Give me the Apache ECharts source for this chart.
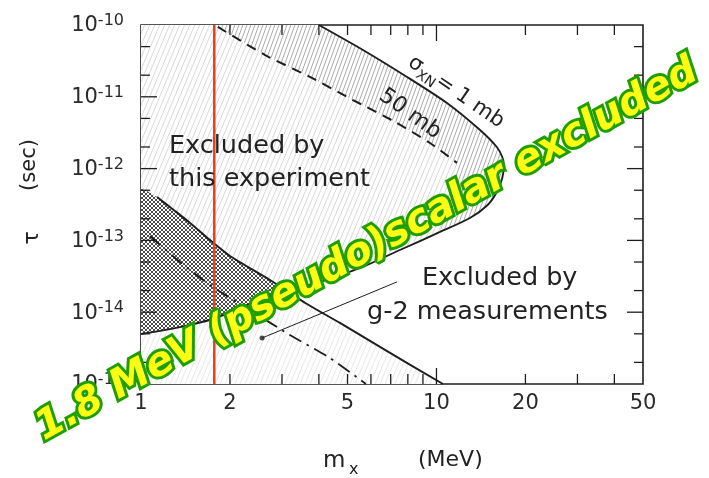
<!DOCTYPE html>
<html><head><meta charset="utf-8">
<script src="https://cdn.jsdelivr.net/npm/echarts@6.0.0/dist/echarts.min.js"></script>
<style>html,body{margin:0;padding:0;background:#fff;}#chart{width:709px;height:478px;}</style>
</head><body><div id="chart"></div>
<script>
// ---------------- data (m_X in MeV, tau in sec) ----------------
const massRange = [1, 50];
const tauRange = [1e-15, 1e-10];
const xLabelValues = [1, 2, 5, 10, 20, 50];
const xTickValues = [2, 3, 4, 5, 6, 7, 8, 9, 10, 20, 30, 40];
const xMajorTickValues = [10];
const yLabelExponents = [-15, -14, -13, -12, -11, -10];
const yTickValues = [2e-15, 5e-15, 1e-14, 2e-14, 5e-14, 1e-13, 2e-13, 5e-13, 1e-12, 2e-12, 5e-12, 1e-11, 2e-11, 5e-11];
const yMajorTickValues = [1e-14, 1e-13, 1e-12, 1e-11];

// sigma_XN = 1 mb contour (boundary of region excluded by this experiment)
const sigma1mbUpper = [[4.00, 1.0e-10], [5.64, 4.49e-11], [7.95, 1.89e-11], [10.85, 8.2e-12], [14.04, 3.45e-12], [16.0, 2.0e-12], [16.7, 1.45e-12], [16.9, 1.12e-12]];
const sigma1mbLower = [[16.7, 7.4e-13], [16.0, 4.72e-13], [14.9, 3.11e-13], [12.98, 2.05e-13], [10.28, 1.31e-13], [7.52, 7.35e-14], [5.51, 4.13e-14], [4.04, 2.64e-14], [3.02, 1.91e-14], [2.63, 1.58e-14], [2.16, 1.14e-14], [1.75, 8.04e-15], [1.355, 6.2e-15], [1.0, 4.97e-15]];
// sigma_XN = 50 mb contour (dashed)
const sigma50mb = [[1.82, 9.4e-11], [2.63, 3.82e-11], [3.73, 1.89e-11], [5.22, 9.02e-12], [7.24, 4.46e-12], [9.51, 2.27e-12], [11.73, 1.20e-12]];
// g-2 limits
const g2Solid = [[1.0, 5.5e-13], [1.133, 4.02e-13], [1.303, 2.57e-13], [1.465, 1.75e-13], [1.712, 1.01e-13], [2.0, 6.06e-14], [2.733, 2.81e-14], [3.646, 1.30e-14], [4.714, 7.08e-15], [6.44, 3.28e-15], [10.52, 1.0e-15]];
const g2DashDot = [[1.073, 1.15e-13], [1.355, 5.0e-14], [1.752, 2.24e-14], [2.338, 1.07e-14], [3.193, 4.81e-15], [4.362, 2.30e-15], [5.77, 1.0e-15]];
const g2Pointer = [[7.35, 2.64e-14], [2.57, 4.37e-15]];
const markerMass = [1.77];

// ---------------- helpers ----------------
function hatchCanvas(w, h, color, lw) {
  const c = document.createElement('canvas'); c.width = w; c.height = h;
  const g = c.getContext('2d');
  g.fillStyle = '#fff'; g.fillRect(0, 0, w, h);
  g.strokeStyle = color; g.lineWidth = lw;
  for (let k = -1; k <= 1; k++) { g.beginPath(); g.moveTo(k * w, h); g.lineTo(k * w + w, 0); g.stroke(); }
  return c;
}
function crossCanvas(s, color, lw) {
  const c = document.createElement('canvas'); c.width = s; c.height = s;
  const g = c.getContext('2d');
  g.fillStyle = '#fff'; g.fillRect(0, 0, s, s);
  g.strokeStyle = color; g.lineWidth = lw;
  for (let k = -1; k <= 1; k++) {
    g.beginPath(); g.moveTo(k * s, s); g.lineTo(k * s + s, 0); g.stroke();
    g.beginPath(); g.moveTo(k * s, 0); g.lineTo(k * s + s, s); g.stroke();
  }
  return c;
}
const patExp = { image: hatchCanvas(5, 12, 'rgba(0,0,0,0.2)', 0.8), repeat: 'repeat' };
const patDense = { image: hatchCanvas(4, 11, 'rgba(0,0,0,0.42)', 0.8), repeat: 'repeat' };
const patG2 = { image: hatchCanvas(5, 12, 'rgba(0,0,0,0.12)', 0.8), repeat: 'repeat' };
const patCross = { image: crossCanvas(4, 'rgba(0,0,0,0.78)', 0.9), repeat: 'repeat' };

const L = p => [Math.log10(p[0]), Math.log10(p[1])];
function intersect(A, B) {
  for (let i = 0; i < A.length - 1; i++) for (let j = 0; j < B.length - 1; j++) {
    const p = L(A[i]), p2 = L(A[i + 1]), q = L(B[j]), q2 = L(B[j + 1]);
    const r = [p2[0] - p[0], p2[1] - p[1]], s = [q2[0] - q[0], q2[1] - q[1]];
    const den = r[0] * s[1] - r[1] * s[0];
    if (Math.abs(den) < 1e-12) continue;
    const t = ((q[0] - p[0]) * s[1] - (q[1] - p[1]) * s[0]) / den;
    const u = ((q[0] - p[0]) * r[1] - (q[1] - p[1]) * r[0]) / den;
    if (t >= 0 && t <= 1 && u >= 0 && u <= 1) return { i, j, pt: [Math.pow(10, p[0] + t * r[0]), Math.pow(10, p[1] + t * r[1])] };
  }
  return null;
}

const expRegion = [[massRange[0], tauRange[1]]].concat(sigma1mbUpper, sigma1mbLower);
const denseRegion = [[sigma50mb[0][0], tauRange[1]]].concat(sigma50mb, sigma1mbLower.slice(0, 5).reverse(), sigma1mbUpper.slice().reverse());
const g2Region = g2Solid.concat([[massRange[0], tauRange[0]]]);
const X = intersect(g2Solid, sigma1mbLower);
const overlapRegion = g2Solid.slice(0, X.i + 1).concat([X.pt], sigma1mbLower.slice(X.j + 1));

function polySeries(pts, fill, z) {
  return {
    type: 'custom', z: z, silent: true, clip: true,
    data: pts,
    renderItem: function (params, api) {
      if (params.dataIndex !== 0) return null;
      return { type: 'polygon', shape: { points: pts.map(p => api.coord(p)) }, style: { fill: fill, stroke: null } };
    }
  };
}
function lineSeries(pts, style, z) {
  return { type: 'line', data: pts, z: z, silent: true, showSymbol: false, symbol: 'none', smooth: 0.25, lineStyle: style, animation: false };
}

const FONT = '"DejaVu Sans", sans-serif';
const INK = '#1e1e1e';

const chart = echarts.init(document.getElementById('chart'));
const option = {
  animation: false,
  grid: { left: 141, top: 25, right: 66, bottom: 94, show: true, borderColor: INK, borderWidth: 1.6, backgroundColor: '#fff' },
  xAxis: { type: 'log', logBase: 10, min: massRange[0], max: massRange[1], axisLine: { show: false }, axisTick: { show: false }, axisLabel: { show: false }, splitLine: { show: false } },
  yAxis: { type: 'log', logBase: 10, min: tauRange[0], max: tauRange[1], axisLine: { show: false }, axisTick: { show: false }, axisLabel: { show: false }, splitLine: { show: false } },
  series: [
    polySeries(g2Region, patG2, 1),
    polySeries(expRegion, patExp, 2),
    polySeries(denseRegion, patDense, 2),
    polySeries(overlapRegion, patCross, 3),
    lineSeries(sigma1mbUpper.concat(sigma1mbLower), { color: INK, width: 1.9 }, 5),
    lineSeries(g2Solid.slice(1), { color: INK, width: 2 }, 5),
    lineSeries(g2DashDot, { color: INK, width: 1.8, type: [14, 6, 2.5, 6] }, 5),
    lineSeries(sigma50mb, { color: INK, width: 2, type: [10, 7] }, 5),
    { type: 'line', data: g2Pointer, z: 5, silent: true, showSymbol: false, symbol: 'none', lineStyle: { color: INK, width: 1 } },
    { type: 'scatter', data: [g2Pointer[1]], z: 6, silent: true, symbolSize: 5, itemStyle: { color: INK } },
    { type: 'line', data: [[markerMass[0], tauRange[0]], [markerMass[0], tauRange[1]]], z: 7, silent: true, showSymbol: false, symbol: 'none', lineStyle: { color: '#f23d1c', width: 2.5 } },
    // x ticks (bottom and top)
    {
      type: 'custom', z: 8, silent: true, data: xTickValues.map(v => [v, tauRange[0]]),
      renderItem: function (params, api) {
        const v = api.value(0);
        const b = api.coord([v, tauRange[0]]), t = api.coord([v, tauRange[1]]);
        const len = xMajorTickValues.indexOf(v) >= 0 ? 16 : 10;
        return { type: 'group', children: [
          { type: 'line', shape: { x1: b[0], y1: b[1], x2: b[0], y2: b[1] - len }, style: { stroke: INK, lineWidth: 1.3 } },
          { type: 'line', shape: { x1: t[0], y1: t[1], x2: t[0], y2: t[1] + len }, style: { stroke: INK, lineWidth: 1.3 } }
        ] };
      }
    },
    // y ticks (left and right)
    {
      type: 'custom', z: 8, silent: true, data: yTickValues.map(v => [massRange[0], v]),
      renderItem: function (params, api) {
        const v = api.value(1);
        const l = api.coord([massRange[0], v]), r = api.coord([massRange[1], v]);
        const len = yMajorTickValues.some(m => Math.abs(m / v - 1) < 1e-6) ? 16 : 9;
        return { type: 'group', children: [
          { type: 'line', shape: { x1: l[0], y1: l[1], x2: l[0] + len, y2: l[1] }, style: { stroke: INK, lineWidth: 1.3 } },
          { type: 'line', shape: { x1: r[0], y1: r[1], x2: r[0] - len, y2: r[1] }, style: { stroke: INK, lineWidth: 1.3 } }
        ] };
      }
    },
    // x tick labels
    {
      type: 'custom', z: 8, silent: true, data: xLabelValues.map(v => [v, tauRange[0]]),
      renderItem: function (params, api) {
        const v = api.value(0);
        const b = api.coord([v, tauRange[0]]);
        return { type: 'text', x: b[0], y: b[1] + 20, style: { text: String(v), font: '21px ' + FONT, fill: '#2a2a2a', align: 'center', verticalAlign: 'middle', textAlign: 'center', textVerticalAlign: 'middle' } };
      }
    },
    // y tick labels
    {
      type: 'custom', z: 8, silent: true, data: yLabelExponents.map(e => [massRange[0], Math.pow(10, e)]),
      renderItem: function (params, api) {
        const e = yLabelExponents[params.dataIndex];
        const p = api.coord([massRange[0], Math.pow(10, e)]);
        return { type: 'text', x: p[0] - 17, y: p[1] + 1, style: {
          text: '{b|10}{s|' + e + '}', align: 'right', verticalAlign: 'middle', textAlign: 'right', textVerticalAlign: 'middle',
          rich: { b: { font: '21px ' + FONT, fill: '#2a2a2a', lineHeight: 26 }, s: { font: '16px ' + FONT, fill: '#2a2a2a', verticalAlign: 'top', lineHeight: 26 } }
        } };
      }
    }
  ],
  graphic: [
    { type: 'text', x: 169, y: 146, z: 20, silent: true, style: { text: 'Excluded by', font: '25.5px ' + FONT, fill: '#222', verticalAlign: 'middle', textVerticalAlign: 'middle' } },
    { type: 'text', x: 169, y: 179, z: 20, silent: true, style: { text: 'this experiment', font: '25.5px ' + FONT, fill: '#222', verticalAlign: 'middle', textVerticalAlign: 'middle' } },
    { type: 'text', x: 422, y: 278, z: 20, silent: true, style: { text: 'Excluded by', font: '25.5px ' + FONT, fill: '#222', verticalAlign: 'middle', textVerticalAlign: 'middle' } },
    { type: 'text', x: 367, y: 312, z: 20, silent: true, style: { text: 'g-2 measurements', font: '25.5px ' + FONT, fill: '#222', verticalAlign: 'middle', textVerticalAlign: 'middle' } },
    { type: 'text', x: 456, y: 92, rotation: -0.60, z: 20, silent: true, style: { text: 'σ{s|XN}= 1 mb', font: '21px ' + FONT, fill: '#222', align: 'center', verticalAlign: 'middle', textAlign: 'center', textVerticalAlign: 'middle', rich: { s: { font: '14px ' + FONT, fill: '#222', verticalAlign: 'bottom', lineHeight: 28 } } } },
    { type: 'text', x: 410, y: 114, rotation: -0.62, z: 20, silent: true, style: { text: '50 mb', font: '22px ' + FONT, fill: '#222', align: 'center', verticalAlign: 'middle', textAlign: 'center', textVerticalAlign: 'middle' } },
    // axis names
    { type: 'text', x: 323, y: 461, z: 20, silent: true, style: { text: 'm', font: '23px ' + FONT, fill: '#222', verticalAlign: 'middle', textVerticalAlign: 'middle' } },
    { type: 'text', x: 349, y: 470, z: 20, silent: true, style: { text: 'x', font: '16px ' + FONT, fill: '#222', verticalAlign: 'middle', textVerticalAlign: 'middle' } },
    { type: 'text', x: 418, y: 460, z: 20, silent: true, style: { text: '(MeV)', font: '22px ' + FONT, fill: '#222', verticalAlign: 'middle', textVerticalAlign: 'middle' } },
    { type: 'text', x: 32, y: 238, rotation: Math.PI / 2, z: 20, silent: true, style: { text: 'τ', font: '22px ' + FONT, fill: '#222', align: 'center', verticalAlign: 'middle', textAlign: 'center', textVerticalAlign: 'middle' } },
    { type: 'text', x: 30, y: 165, rotation: Math.PI / 2, z: 20, silent: true, style: { text: '(sec)', font: '21px ' + FONT, fill: '#222', align: 'center', verticalAlign: 'middle', textAlign: 'center', textVerticalAlign: 'middle' } },
    // overlay annotation
    { type: 'text', x: 367, y: 250, rotation: 0.505, z: 100, silent: true, style: {
      text: '1.8 MeV (pseudo)scalar excluded', font: 'italic bold 40px ' + FONT, fill: '#ffff14', stroke: '#1f9e00', lineWidth: 6,
      align: 'center', verticalAlign: 'middle', textAlign: 'center', textVerticalAlign: 'middle',
      shadowBlur: 4, shadowColor: 'rgba(0,0,0,0.45)', shadowOffsetX: 3, shadowOffsetY: 3 } }
  ]
};
chart.setOption(option);
</script>
</body></html>
